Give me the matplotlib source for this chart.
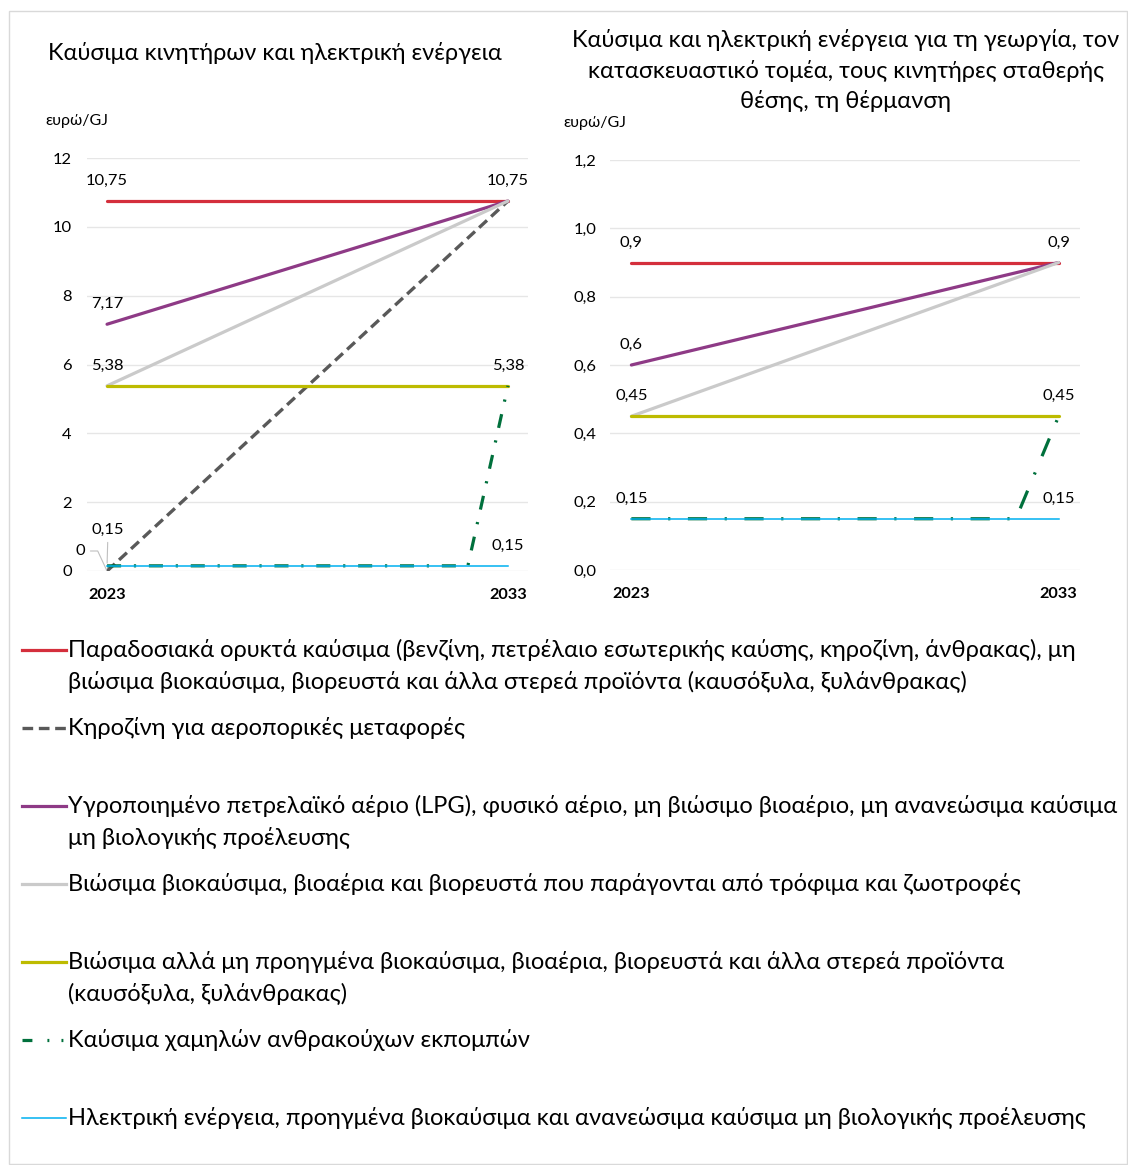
import matplotlib
matplotlib.use('Agg')
import matplotlib.pyplot as plt
from matplotlib.lines import Line2D
from matplotlib.patches import Rectangle

plt.rcParams['font.family'] = ['Lato', 'DejaVu Sans']

# ---- data ----
years = [2023, 2033]
years_all = [2023, 2024, 2025, 2026, 2027, 2028, 2029, 2030, 2031, 2032, 2033]

motor_fossil = [10.75, 10.75]
motor_kerosene = [0, 10.75]
motor_lpg = [7.17, 10.75]
motor_food_bio = [5.38, 10.75]
motor_sust_bio = [5.38, 5.38]
motor_low_carbon = [0.15, 0.15, 0.15, 0.15, 0.15, 0.15, 0.15, 0.15, 0.15, 0.15, 5.38]
motor_electric = [0.15, 0.15]

agri_fossil = [0.9, 0.9]
agri_lpg = [0.6, 0.9]
agri_food_bio = [0.45, 0.9]
agri_sust_bio = [0.45, 0.45]
agri_low_carbon = [0.15, 0.15, 0.15, 0.15, 0.15, 0.15, 0.15, 0.15, 0.15, 0.15, 0.45]
agri_electric = [0.15, 0.15]

left_title = 'Καύσιμα κινητήρων και ηλεκτρική ενέργεια'
right_title = ['Καύσιμα και ηλεκτρική ενέργεια για τη γεωργία, τον',
               'κατασκευαστικό τομέα, τους κινητήρες σταθερής',
               'θέσης, τη θέρμανση']
unit = 'ευρώ/GJ'

legend_labels = [
    'Παραδοσιακά ορυκτά καύσιμα (βενζίνη, πετρέλαιο εσωτερικής καύσης, κηροζίνη, άνθρακας), μη\n'
    'βιώσιμα βιοκαύσιμα, βιορευστά και άλλα στερεά προϊόντα (καυσόξυλα, ξυλάνθρακας)',
    'Κηροζίνη για αεροπορικές μεταφορές',
    'Υγροποιημένο πετρελαϊκό αέριο (LPG), φυσικό αέριο, μη βιώσιμο βιοαέριο, μη ανανεώσιμα καύσιμα\n'
    'μη βιολογικής προέλευσης',
    'Βιώσιμα βιοκαύσιμα, βιοαέρια και βιορευστά που παράγονται από τρόφιμα και ζωοτροφές',
    'Βιώσιμα αλλά μη προηγμένα βιοκαύσιμα, βιοαέρια, βιορευστά και άλλα στερεά προϊόντα\n'
    '(καυσόξυλα, ξυλάνθρακας)',
    'Καύσιμα χαμηλών ανθρακούχων εκπομπών',
    'Ηλεκτρική ενέργεια, προηγμένα βιοκαύσιμα και ανανεώσιμα καύσιμα μη βιολογικής προέλευσης',
]

styles = [
    dict(color='#D42F3C', lw=2.3, solid_capstyle='round'),
    dict(color='#595959', lw=2.4, dashes=(3.2, 1.7)),
    dict(color='#8E3A86', lw=2.3, solid_capstyle='round'),
    dict(color='#CACACA', lw=2.3, solid_capstyle='round'),
    dict(color='#BDBB00', lw=2.3, solid_capstyle='round'),
    dict(color='#00703C', lw=2.3, dashes=(4.4, 4, 0.7, 4)),
    dict(color='#00B0F0', lw=1.1),
]

W, H = 1128, 1165
fig = plt.figure(figsize=(W / 100, H / 100), dpi=100)
renderer = fig.canvas.get_renderer()


def fx(px):
    return px / W


def fy(py):
    return 1 - py / H


def fit_size(s, width_px, **kw):
    t = fig.text(0, 0, s, fontsize=10, **kw)
    w = t.get_window_extent(renderer).width
    t.remove()
    return 10 * width_px / w


title_fs = fit_size(left_title, 454)
unit_fs = fit_size(unit, 63)
tick_fs = fit_size('10,75', 42)
year_fs = fit_size('2023', 38, weight='bold')
legend_fs = fit_size(legend_labels[2].split('\n')[0], 1055)

# frame around the figure
fig.patches.append(Rectangle((fx(9), fy(1164)), fx(1127) - fx(9), fy(11) - fy(1164),
                             transform=fig.transFigure, fill=False, ec='#D9D9D9', lw=1))


def comma(v, fmt='{:g}'):
    return fmt.format(v).replace('.', ',')


def setup_axes(ax, ymax, ystep, yfmt, pad):
    ax.set_xlim(2022.5, 2033.5)
    ax.set_ylim(0, ymax)
    yt = [round(i * ystep, 2) for i in range(int(round(ymax / ystep)) + 1)]
    ax.set_yticks(yt)
    ax.set_yticklabels([comma(v, yfmt) for v in yt], fontsize=tick_fs)
    ax.set_xticks(years)
    ax.set_xticklabels([str(y) for y in years], fontsize=year_fs, fontweight='bold')
    ax.tick_params(axis='y', length=0, pad=pad)
    ax.tick_params(axis='x', length=0, pad=12)
    for sp in ax.spines.values():
        sp.set_visible(False)
    ax.grid(axis='y', color='#E6E6E6', lw=1)
    ax.set_axisbelow(True)


def label(ax, x, y, text, dy=20, dx=0):
    ax.annotate(text, (x, y), xytext=(dx, dy), textcoords='offset pixels',
                ha='center', va='center', fontsize=tick_fs)


# ---- left chart ----
axl = fig.add_axes([fx(87), fy(571), fx(528) - fx(87), fy(158) - fy(571)])
setup_axes(axl, 12, 2, '{:g}', 11)
left_series = [motor_fossil, motor_kerosene, motor_lpg, motor_food_bio, motor_sust_bio,
               motor_low_carbon, motor_electric]
for vals, st in zip(left_series, styles):
    xs = years_all if len(vals) == len(years_all) else years
    axl.plot(xs, vals, **st)

label(axl, years[0], motor_fossil[0], comma(motor_fossil[0]))
label(axl, years[1], motor_fossil[1], comma(motor_fossil[1]))
label(axl, years[0], motor_lpg[0], comma(motor_lpg[0]))
label(axl, years[0], motor_food_bio[0], comma(motor_food_bio[0]))
label(axl, years[1], motor_sust_bio[1], comma(motor_sust_bio[1]))
label(axl, years[1], motor_electric[1], comma(motor_electric[1]))
axl.annotate(comma(motor_electric[0]), (years[0], motor_electric[0]), xytext=(1, 36),
             textcoords='offset pixels', ha='center', va='center', fontsize=tick_fs,
             arrowprops=dict(arrowstyle='-', color='#BFBFBF', lw=0.8, shrinkA=2, shrinkB=2))
axl.annotate(comma(motor_kerosene[0]), (years[0], motor_kerosene[0]), xytext=(-27, 20),
             textcoords='offset pixels', ha='center', va='center', fontsize=tick_fs,
             arrowprops=dict(arrowstyle='-', color='#BFBFBF', lw=0.8, shrinkA=2, shrinkB=1,
                             connectionstyle='angle,angleA=0,angleB=115,rad=0'))

# ---- right chart ----
axr = fig.add_axes([fx(610), fy(570), fx(1080) - fx(610), fy(160) - fy(570)])
setup_axes(axr, 1.2, 0.2, '{:.1f}', 10)
right_series = [agri_fossil, None, agri_lpg, agri_food_bio, agri_sust_bio,
                agri_low_carbon, agri_electric]
for vals, st in zip(right_series, styles):
    if vals is None:
        continue
    xs = years_all if len(vals) == len(years_all) else years
    s = dict(st)
    if 'dashes' in s:
        s['dashes'] = (6, 5.5, 0.7, 5.5)
    axr.plot(xs, vals, **s)

for vals in [agri_fossil, agri_sust_bio, agri_electric]:
    label(axr, years[0], vals[0], comma(vals[0]))
    label(axr, years[1], vals[1], comma(vals[1]))
label(axr, years[0], agri_lpg[0], comma(agri_lpg[0]))

# ---- titles ----
fig.text(fx(275), fy(53), left_title, ha='center', va='center', fontsize=title_fs)
for k, line in enumerate(right_title):
    fig.text(fx(846), fy(40 + 30.5 * k), line, ha='center', va='center', fontsize=title_fs)
fig.text(fx(45), fy(121), unit, ha='left', va='center', fontsize=unit_fs)
fig.text(fx(563), fy(123), unit, ha='left', va='center', fontsize=unit_fs)

# ---- legend ----
for i, (lab, st) in enumerate(zip(legend_labels, styles)):
    y = 650 + 78 * i
    s = dict(st)
    s.pop('solid_capstyle', None)
    if i == 5:
        s['dashes'] = (3.1, 4.7, 0.6, 3.8, 0.6, 10)
    fig.add_artist(Line2D([fx(22), fx(66)], [fy(y), fy(y)], transform=fig.transFigure, **s))
    for k, line in enumerate(lab.split('\n')):
        fig.text(fx(68), fy(y + 32 * k), line, ha='left', va='center', fontsize=legend_fs)

fig.savefig('out.png', dpi=100)
